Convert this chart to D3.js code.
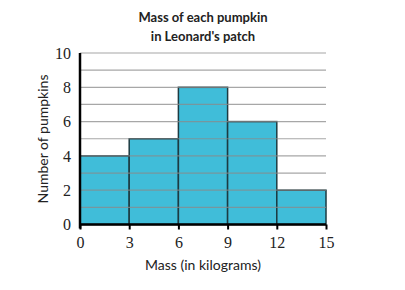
<!DOCTYPE html>
<html><head><meta charset="utf-8">
<script src="https://cdn.jsdelivr.net/npm/d3@7"></script>
<style>body{margin:0;background:#fff}svg{display:block}</style>
</head><body>
<svg id="c" width="405" height="290"></svg>
<script>
const binStarts = [0, 3, 6, 9, 12];
const binEnds = [3, 6, 9, 12, 15];
const counts = [4, 5, 8, 6, 2];
const xTicks = [0, 3, 6, 9, 12, 15];
const yTicks = [0, 2, 4, 6, 8, 10];
const gridValues = [1, 2, 3, 4, 5, 6, 7, 8, 9, 10];
const titleLines = ["Mass of each pumpkin", "in Leonard's patch"];

const svg = d3.select("#c");
const x = d3.scaleLinear().domain([0, 15]).range([80, 326]);
const y = d3.scaleLinear().domain([0, 10]).range([224.5, 53]);
const tickFont = "Liberation Serif, DejaVu Serif, serif";

const bins = binStarts.map((s, i) => ({s, e: binEnds[i], c: counts[i]}));
svg.append("g").selectAll("rect").data(bins).join("rect")
  .attr("x", d => x(d.s)).attr("y", d => y(d.c))
  .attr("width", d => x(d.e) - x(d.s)).attr("height", d => y(0) - y(d.c))
  .attr("fill", "#40bdd9").attr("stroke", "#1d3b42").attr("stroke-width", 1.5);

svg.append("g").selectAll("line").data(gridValues).join("line")
  .attr("x1", x(0)).attr("x2", x(15))
  .attr("y1", d => y(d)).attr("y2", d => y(d))
  .attr("stroke", "#8a8a8a").attr("stroke-opacity", 0.75).attr("stroke-width", 1.2);

// y axis
const yAxis = svg.append("g").attr("transform", `translate(${x(0)},0)`)
  .call(d3.axisLeft(y).tickValues(yTicks).tickSize(0).tickPadding(9).tickFormat(d3.format("d")));
yAxis.select(".domain").remove();
yAxis.selectAll("text").attr("font-family", tickFont).attr("font-size", 16).attr("fill", "#222")
  .attr("dy", "0.32em");
svg.append("line").attr("x1", x(0)).attr("x2", x(0)).attr("y1", y(10)).attr("y2", y(0) + 4)
  .attr("stroke", "#000").attr("stroke-width", 2.5);

// x axis
const xAxis = svg.append("g").attr("transform", `translate(0,${y(0)})`)
  .call(d3.axisBottom(x).tickValues(xTicks).tickSize(5).tickPadding(5).tickFormat(d3.format("d")));
xAxis.select(".domain").remove();
xAxis.selectAll(".tick line").attr("stroke", "#000").attr("stroke-width", 2);
xAxis.selectAll("text").attr("font-family", tickFont).attr("font-size", 16).attr("fill", "#222")
  .attr("y", 23.5).attr("dy", 0);
svg.append("line").attr("x1", x(0) - 1).attr("x2", x(15)).attr("y1", y(0)).attr("y2", y(0))
  .attr("stroke", "#000").attr("stroke-width", 2.5);

// titles
svg.append("g").selectAll("text").data(titleLines).join("text")
  .attr("x", 203).attr("y", (d, i) => 22 + i * 19)
  .attr("text-anchor", "middle").attr("font-family", "Lato, sans-serif")
  .attr("font-weight", "bold").attr("font-size", 13).attr("fill", "#222").text(d => d);

svg.append("text").attr("x", 203).attr("y", 270).attr("text-anchor", "middle")
  .attr("font-family", "Lato, sans-serif").attr("font-size", 14).attr("fill", "#222")
  .text("Mass (in kilograms)");

svg.append("text").attr("transform", "translate(48,139) rotate(-90)").attr("text-anchor", "middle")
  .attr("font-family", "Lato, sans-serif").attr("font-size", 14).attr("fill", "#222")
  .text("Number of pumpkins");
</script>
</body></html>
